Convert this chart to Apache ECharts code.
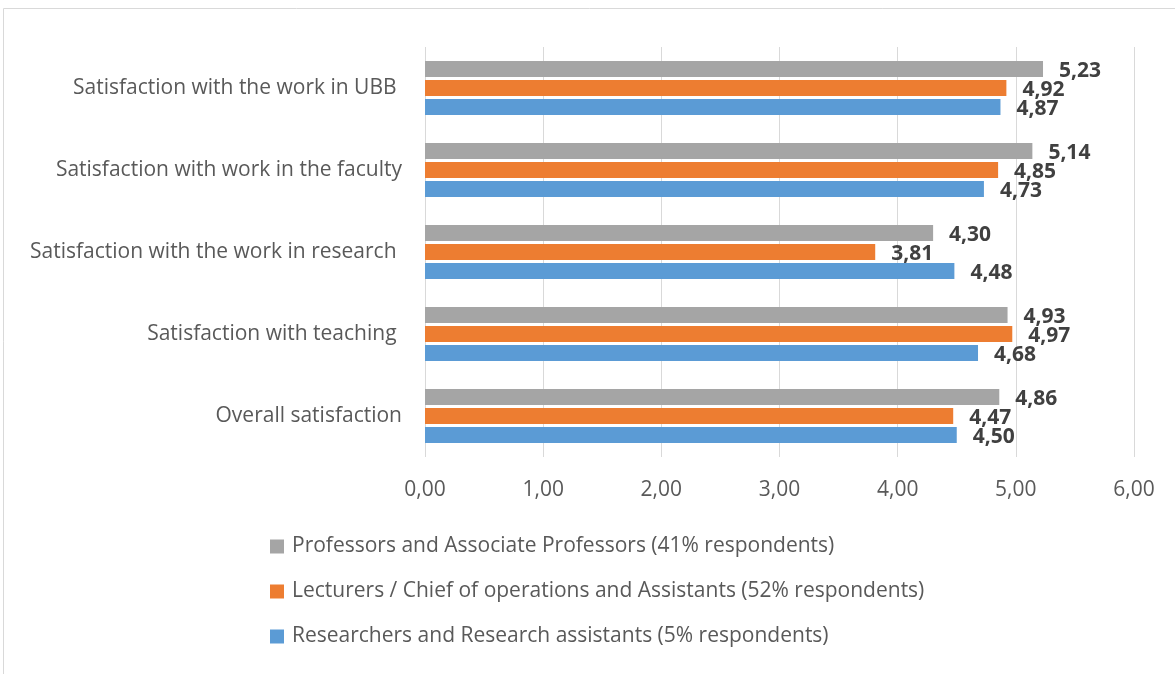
<!DOCTYPE html>
<html>
<head>
<meta charset="utf-8">
<script src="https://cdn.jsdelivr.net/npm/echarts@6/dist/echarts.min.js"></script>
<style>
  html, body { margin: 0; padding: 0; background: #fff; }
  #chart { width: 1175px; height: 674px; }
</style>
</head>
<body>
<div id="chart"></div>
<script>
  // categories top to bottom
  const categories = [
    'Satisfaction with the work in UBB ',
    'Satisfaction with work in the faculty',
    'Satisfaction with the work in research ',
    'Satisfaction with teaching ',
    'Overall satisfaction'
  ]
  const professors = [5.23, 5.14, 4.30, 4.93, 4.86]
  const lecturers = [4.92, 4.85, 3.81, 4.97, 4.47]
  const researchers = [4.87, 4.73, 4.48, 4.68, 4.50]
  const seriesNames = [
    'Professors and Associate Professors (41% respondents)',
    'Lecturers / Chief of operations and Assistants (52% respondents)',
    'Researchers and Research assistants (5% respondents)'
  ]

  const font = '"Open Sans", sans-serif'
  const colors = ['#A5A5A5', '#ED7D31', '#5B9BD5']

  function makeSeries(name, values, idx) {
    return {
      name: name,
      type: 'bar',
      barWidth: 16,
      barGap: '18%',
      itemStyle: { color: colors[idx] },
      data: values,
      label: {
        show: true,
        position: 'right',
        distance: 16,
        offset: [0, 2],
        fontFamily: font,
        fontSize: 21,
        fontWeight: 'bold',
        color: '#404040',
        formatter: p => p.value.toFixed(2).replace('.', ',')
      }
    }
  }

  let myChart = echarts.init(document.getElementById('chart'))
  let option = {
    animation: false,
    textStyle: { fontFamily: font },
    graphic: [{
      type: 'rect',
      shape: { x: 3.5, y: 8.5, width: 1200, height: 700 },
      style: { fill: 'none', stroke: '#D9D9D9', lineWidth: 1 }
    }],
    legend: {
      orient: 'vertical',
      left: 265,
      top: 531,
      itemWidth: 14,
      itemHeight: 14,
      itemGap: 24,
      icon: 'rect',
      data: seriesNames,
      textStyle: { fontFamily: font, fontSize: 21, color: '#595959', padding: [0, 0, 0, 3] }
    },
    grid: {
      left: 425,
      right: 41,
      top: 47,
      bottom: 217
    },
    xAxis: {
      type: 'value',
      min: 0,
      max: 6,
      interval: 1,
      axisLine: { show: false },
      axisTick: { show: false },
      splitLine: { show: true, lineStyle: { color: '#D9D9D9', width: 1 } },
      axisLabel: {
        margin: 23,
        fontFamily: font,
        fontSize: 21,
        color: '#595959',
        formatter: v => v.toFixed(2).replace('.', ',')
      }
    },
    yAxis: {
      type: 'category',
      inverse: true,
      data: categories,
      axisLine: { show: false },
      axisTick: { show: false },
      axisLabel: {
        margin: 23,
        fontFamily: font,
        fontSize: 21,
        color: '#595959'
      }
    },
    series: [
      makeSeries(seriesNames[0], professors, 0),
      makeSeries(seriesNames[1], lecturers, 1),
      makeSeries(seriesNames[2], researchers, 2)
    ]
  }
  myChart.setOption(option)
</script>
</body>
</html>
